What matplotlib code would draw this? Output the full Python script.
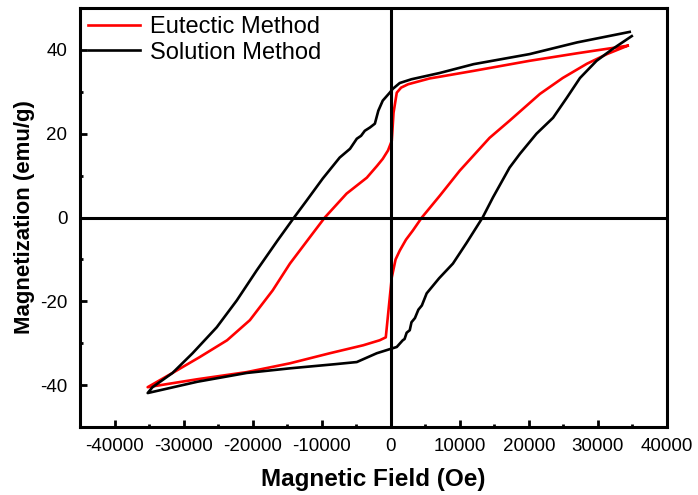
import matplotlib
matplotlib.use("Agg")
from matplotlib import pyplot as plt
from matplotlib.ticker import MultipleLocator

plt.rcParams['font.family'] = ['Liberation Sans', 'DejaVu Sans']
plt.rcParams['axes.unicode_minus'] = False

# Eutectic method loop (upper branch going down, then lower branch going up)
eut_field = [34300, 27000, 20100, 12000, 7100, 5650, 2500, 1500, 870, 400, 145,
             -400, -1160, -2000, -3470, -6400, -9550, -11300, -14600, -17100,
             -20400, -23700, -27650, -31600, -35200,
             -28000, -20850, -14600, -8830, -4000, -1600, -720, 145, 700, 1300,
             2200, 3200, 4500, 7100, 10000, 14300, 17200, 21600, 24900, 28400,
             31300, 34300]
eut_mag = [41.0, 39.2, 37.4, 35.0, 33.6, 33.2, 31.8, 31.0, 29.8, 25.0, 18.3,
           16.0, 14.0, 12.3, 9.5, 5.7, 0.0, -3.8, -11.0, -17.4,
           -24.5, -29.3, -33.3, -37.1, -40.5,
           -38.6, -36.9, -34.8, -32.4, -30.5, -29.3, -28.6, -14.3, -10.0, -7.9,
           -5.3, -3.1, 0.0, 5.2, 11.2, 19.0, 23.1, 29.5, 33.3, 36.7,
           39.0, 41.0]

# Solution method loop
sol_field = [34600, 27000, 20100, 12000, 7100, 3000, 1300, 290, -145, -1160,
             -1800, -2300, -3000, -3760, -4300, -4920, -5900, -7400, -9850,
             -12200, -14000, -16400, -19400, -22300, -25200, -28700, -31600,
             -34500, -35200,
             -28000, -20850, -14600, -8000, -4920, -2030, 870, 1740, 2000, 2300,
             2750, 3000, 3500, 4000, 4500, 5200, 7000, 9000, 11000, 13300, 14800,
             17200, 18700, 21100, 23500, 25500, 27400, 29800, 32100, 34900]
sol_mag = [44.3, 41.8, 39.0, 36.6, 34.5, 33.0, 32.1, 30.7, 29.8, 27.9,
           25.5, 22.4, 21.5, 20.7, 19.5, 18.8, 16.4, 14.3, 9.3,
           4.0, 0.0, -5.5, -12.6, -19.8, -26.2, -32.4, -37.1,
           -40.5, -41.9,
           -39.2, -37.1, -36.0, -35.0, -34.5, -32.4, -30.9, -29.3, -29.0, -27.5,
           -26.9, -25.0, -24.0, -22.0, -21.0, -18.1, -14.5, -11.0, -6.0, 0.0, 4.8,
           11.9, 15.2, 20.0, 23.8, 28.6, 33.3, 37.4, 40.2, 43.3]

fig = plt.figure(figsize=(6.98, 4.95), dpi=100)
ax = fig.add_axes([0.1146, 0.1374, 0.8410, 0.8464])

ax.plot(eut_field, eut_mag, color="red", lw=1.9, label="Eutectic Method")
ax.plot(sol_field, sol_mag, color="black", lw=1.9, label="Solution Method")

#Zero lines through the origin
ax.axhline(0, color="black", lw=2.2, zorder=3)
ax.axvline(0, color="black", lw=2.2, zorder=3)

ax.set_xlim(-45000, 40000)
ax.set_ylim(-50, 50)
ax.xaxis.set_major_locator(MultipleLocator(10000))
ax.xaxis.set_minor_locator(MultipleLocator(5000))
ax.yaxis.set_major_locator(MultipleLocator(20))
ax.yaxis.set_minor_locator(MultipleLocator(10))
ax.tick_params(which="both", direction="in", width=2, labelsize=13.5)
ax.tick_params(which="major", length=5)
ax.tick_params(which="minor", length=2.5)
ax.tick_params(axis="x", pad=8)
ax.tick_params(axis="y", pad=9)
for side in ax.spines.values():
    side.set_linewidth(2.2)

ax.set_xlabel("Magnetic Field (Oe)", fontsize=17.5, fontweight="bold", labelpad=9)
ax.set_ylabel("Magnetization (emu/g)", fontsize=16, fontweight="bold", labelpad=4)

ax.legend(loc="upper left", frameon=False, fontsize=17, handlelength=2.2,
          handletextpad=0.45, labelspacing=0.15, borderaxespad=0.0,
          bbox_to_anchor=(-0.003, 1.003))

fig.savefig("out.png", dpi=100)
